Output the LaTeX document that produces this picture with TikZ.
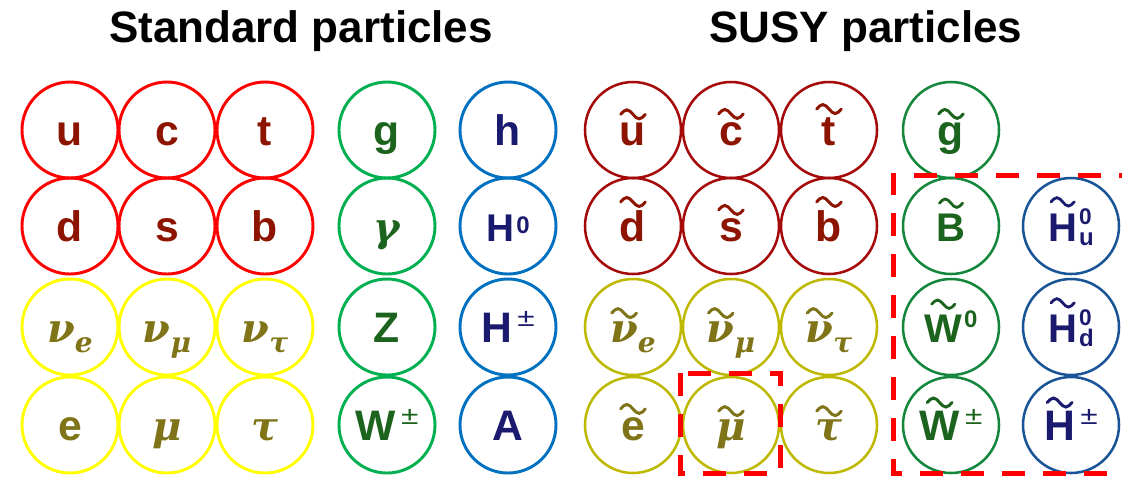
\documentclass[tikz,border=0pt]{standalone}
\usepackage{fontspec}
\setmainfont{Liberation Sans}
\newfontfamily\grk{DejaVu Serif}

% outline and lettering colours
\definecolor{qstd}{RGB}{255,0,0}
\definecolor{qsusy}{RGB}{165,10,10}
\definecolor{qtxt}{RGB}{140,20,0}
\definecolor{lstd}{RGB}{255,255,0}
\definecolor{lsusy}{RGB}{190,185,0}
\definecolor{ltxt}{RGB}{128,116,24}
\definecolor{gstd}{RGB}{0,176,80}
\definecolor{gsusy}{RGB}{20,135,60}
\definecolor{gtxt}{RGB}{28,100,30}
\definecolor{hstd}{RGB}{0,112,192}
\definecolor{hsusy}{RGB}{25,85,150}
\definecolor{htxt}{RGB}{26,26,110}
\definecolor{frame}{RGB}{255,0,0}

% wide tilde drawn centred above a letter; optional argument lifts it further
\newsavebox\tldbox
\newlength\tldw
\newlength\tldh
\newcommand\tld[2][0pt]{%
  \sbox\tldbox{#2}\setlength\tldw{\wd\tldbox}\setlength\tldh{\ht\tldbox}%
  \addtolength\tldh{#1}%
  \leavevmode\rlap{\tikz[overlay,baseline=0pt]\draw[draw=.,line width=0.07em,line cap=round]
    (0.5\tldw-0.29em,\tldh+0.19em) sin ++(0.145em,0.105em) cos ++(0.145em,-0.105em)
    sin ++(0.145em,-0.105em) cos ++(0.145em,0.105em);}%
  \usebox\tldbox}
% Greek letters, subscripts and superscripts
\newcommand\gk[1]{{\grk\fontsize{30}{30}\selectfont\itshape #1}}
\newcommand\lsub[1]{\raisebox{-7.5pt}{\grk\fontsize{21}{21}\selectfont\itshape #1}}
\newcommand\pmsup{\hskip4pt\raisebox{12pt}{\scalebox{1.25}[1]{\mdseries\fontsize{19}{19}\selectfont ±}}}
\newcommand\zsup[1]{\hskip1.5pt\raisebox{#1}{\fontsize{18}{18}\selectfont 0}}
\newcommand\supsub[2]{\hskip1.5pt\rlap{\raisebox{12.5pt}{\fontsize{17}{17}\selectfont #1}}\raisebox{-3.5pt}{\fontsize{18}{18}\selectfont #2}}

\tikzset{
  particle/.style={circle, minimum size=72pt, inner sep=0pt, line width=2.2pt,
    text height=22.5pt, text depth=0pt, font=\bfseries\fontsize{32}{32}\selectfont},
  sparticle/.style={particle, line width=1.9pt},
  quark/.style={particle, draw=qstd, text=qtxt},
  lepton/.style={particle, draw=lstd, text=ltxt},
  gauge/.style={particle, draw=gstd, text=gtxt},
  higgs/.style={particle, draw=hstd, text=htxt},
  squark/.style={sparticle, draw=qsusy, text=qtxt},
  slepton/.style={sparticle, draw=lsusy, text=ltxt},
  gaugino/.style={sparticle, draw=gsusy, text=gtxt},
  higgsino/.style={sparticle, draw=hsusy, text=htxt},
  heading/.style={anchor=base, font=\bfseries\fontsize{33}{33}\selectfont},
  selection/.style={draw=frame, line width=3.75pt, dash pattern=on 17.25pt off 13.5pt}
}

\begin{document}
\begin{tikzpicture}[x=0.75pt, y=-0.75pt]
\useasboundingbox (0,0) rectangle (1122,476);

\node[heading] (stdtitle) at (301,42) {Standard particles};
\node[heading] (susytitle) at (866,42) {SUSY particles};

% Standard Model
\node[quark] (u) at (70,130) {u};
\node[quark] (c) at (167,130) {c};
\node[quark] (t) at (265,130) {t};
\node[quark] (d) at (70,226) {d};
\node[quark] (s) at (167,226) {s};
\node[quark] (b) at (265,226) {b};
\node[lepton] (ne) at (70,327) {\gk{ν}\lsub{e}};
\node[lepton] (nm) at (167,327) {\gk{ν}\lsub{μ}};
\node[lepton] (nt) at (265,327) {\gk{ν}\lsub{τ}};
\node[lepton] (e) at (70,425) {e};
\node[lepton] (mu) at (167,425) {\gk{μ}};
\node[lepton] (tau) at (265,425) {\gk{τ}};
\node[gauge] (g) at (387,130) {g};
\node[gauge] (gam) at (387,226) {\gk{γ}};
\node[gauge] (Z) at (387,327) {Z};
\node[gauge] (W) at (387,425) {W\pmsup};
\node[higgs] (h) at (508,130) {h};
\node[higgs] (H0) at (508,226) {{\fontsize{29}{29}\selectfont H}\zsup{6pt}};
\node[higgs] (Hpm) at (508,327) {H\pmsup};
\node[higgs] (A) at (508,425) {A};

% superpartners
\node[squark] (su) at (633,130) {\tld{u}};
\node[squark] (sc) at (731,130) {\tld{c}};
\node[squark] (st) at (829,130) {\tld{t}};
\node[squark] (sd) at (633,226) {\tld{d}};
\node[squark] (ss) at (731,226) {\tld{s}};
\node[squark] (sb) at (829,226) {\tld{b}};
\node[slepton] (sne) at (633,327) {\tld{\gk{ν}}\lsub{e}};
\node[slepton] (snm) at (731,327) {\tld{\gk{ν}}\lsub{μ}};
\node[slepton] (snt) at (829,327) {\tld{\gk{ν}}\lsub{τ}};
\node[slepton] (se) at (633,425) {\tld{e}};
\node[slepton] (smu) at (731,425) {\tld{\gk{μ}}};
\node[slepton] (stau) at (829,425) {\tld{\gk{τ}}};
\node[gaugino] (sg) at (951,130) {\tld{g}};
\node[gaugino] (sB) at (951,226) {{\fontsize{30}{30}\selectfont\tld[2pt]{B}}};
\node[gaugino] (sW0) at (951,327) {{\fontsize{30}{30}\selectfont\tld[2pt]{W}}\zsup{11pt}};
\node[gaugino] (sWpm) at (951,425) {\tld{W}\pmsup};
\node[higgsino] (sHu) at (1071,226) {{\fontsize{30}{30}\selectfont\tld[3pt]{H}}\supsub{0}{u}};
\node[higgsino] (sHd) at (1071,327) {{\fontsize{30}{30}\selectfont\tld[3pt]{H}}\supsub{0}{d}};
\node[higgsino] (sHpm) at (1071,425) {\tld{H}\pmsup};

% dashed selections; the large one is open on the right, past the edge
\coordinate (neutTR) at (1142,175);
\coordinate (neutTL) at (893,175);
\coordinate (neutBL) at (893,473);
\coordinate (neutBR) at (1142,473);
\coordinate (smuTL) at (680,373);
\coordinate (smuBR) at (780,473);
\begin{scope}
  \clip (0,0) rectangle (1122,476);
  \draw[selection] (neutTR) -- (neutTL) -- (neutBL) -- (neutBR);
\end{scope}
\draw[selection] (smuTL) rectangle (smuBR);
\end{tikzpicture}
\end{document}
